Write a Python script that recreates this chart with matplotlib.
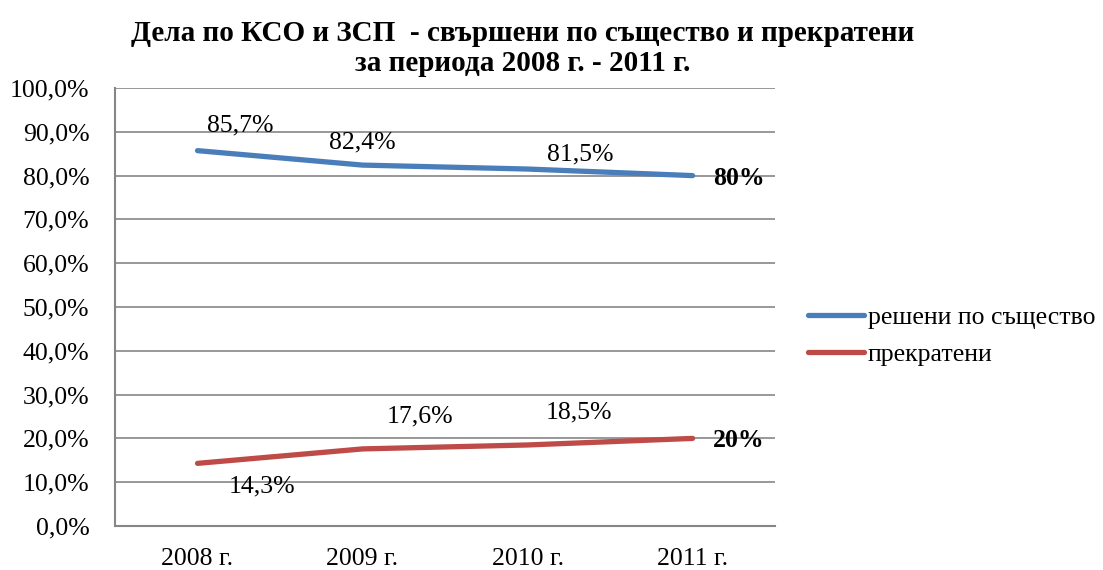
import matplotlib.pyplot as plt
from matplotlib.ticker import FuncFormatter

plt.rcParams['font.family'] = ['Liberation Serif', 'DejaVu Serif']

# данни
years = ['2008 г.', '2009 г.', '2010 г.', '2011 г.']
resheni = [85.7, 82.4, 81.5, 80.0]
prekrateni = [14.3, 17.6, 18.5, 20.0]
resheni_labels = ['85,7%', '82,4%', '81,5%', '80%']
prekrateni_labels = ['14,3%', '17,6%', '18,5%', '20%']

blue = '#4A7EBB'
red = '#BE4B48'
grid_col = '#868686'
fs = 18.5

fig = plt.figure(figsize=(11.03, 5.70), dpi=100)
ax = fig.add_axes([0.1043, 0.0772, 0.5984, 0.7684])

x = list(range(len(years)))
ax.plot(x, resheni, color=blue, lw=3.8, solid_capstyle='round', label='решени по същество')
ax.plot(x, prekrateni, color=red, lw=3.8, solid_capstyle='round', label='прекратени')

ax.set_xlim(-0.5, 3.5)
ax.set_ylim(0, 100)
ax.set_yticks(range(0, 101, 10))
ax.yaxis.set_major_formatter(FuncFormatter(lambda v, p: f'{v:.1f}%'.replace('.', ',')))
ax.set_xticks(x)
ax.set_xticklabels(years)
ax.tick_params(axis='both', length=0, labelsize=fs)
ax.tick_params(axis='y', pad=18.5)
ax.tick_params(axis='x', pad=16)

ax.grid(axis='y', color=grid_col, lw=1.2)
ax.set_axisbelow(True)
for s in ['top', 'right']:
    ax.spines[s].set_visible(False)
for s in ['left', 'bottom']:
    ax.spines[s].set_color(grid_col)
    ax.spines[s].set_linewidth(1.5)

# етикети на данните (отместване в пиксели)
blue_off = [(43, 25), (0, 23), (53, 15), (46, -3)]
red_off = [(64, -23), (57, 32), (51, 33), (46, -2)]
for i in range(4):
    bold = 'bold' if i == 3 else 'normal'
    dx, dy = blue_off[i]
    ax.annotate(resheni_labels[i], (x[i], resheni[i]), xytext=(dx * 0.72, dy * 0.72),
                textcoords='offset points', ha='center', va='center', fontsize=fs,
                fontweight=bold, annotation_clip=False)
    dx, dy = red_off[i]
    ax.annotate(prekrateni_labels[i], (x[i], prekrateni[i]), xytext=(dx * 0.72, dy * 0.72),
                textcoords='offset points', ha='center', va='center', fontsize=fs,
                fontweight=bold, annotation_clip=False)

fig.text(0.4737, 0.915, 'Дела по КСО и ЗСП  - свършени по същество и прекратени\nза периода 2008 г. - 2011 г.',
         ha='center', va='center', fontsize=21, fontweight='bold', linespacing=1.12)

fig.legend(loc='center left', bbox_to_anchor=(0.7325, 0.410), frameon=False, fontsize=fs,
           handlelength=2.2, handletextpad=0.12, labelspacing=0.55, borderaxespad=0,
           borderpad=0)

fig.savefig('out.png', dpi=100)
